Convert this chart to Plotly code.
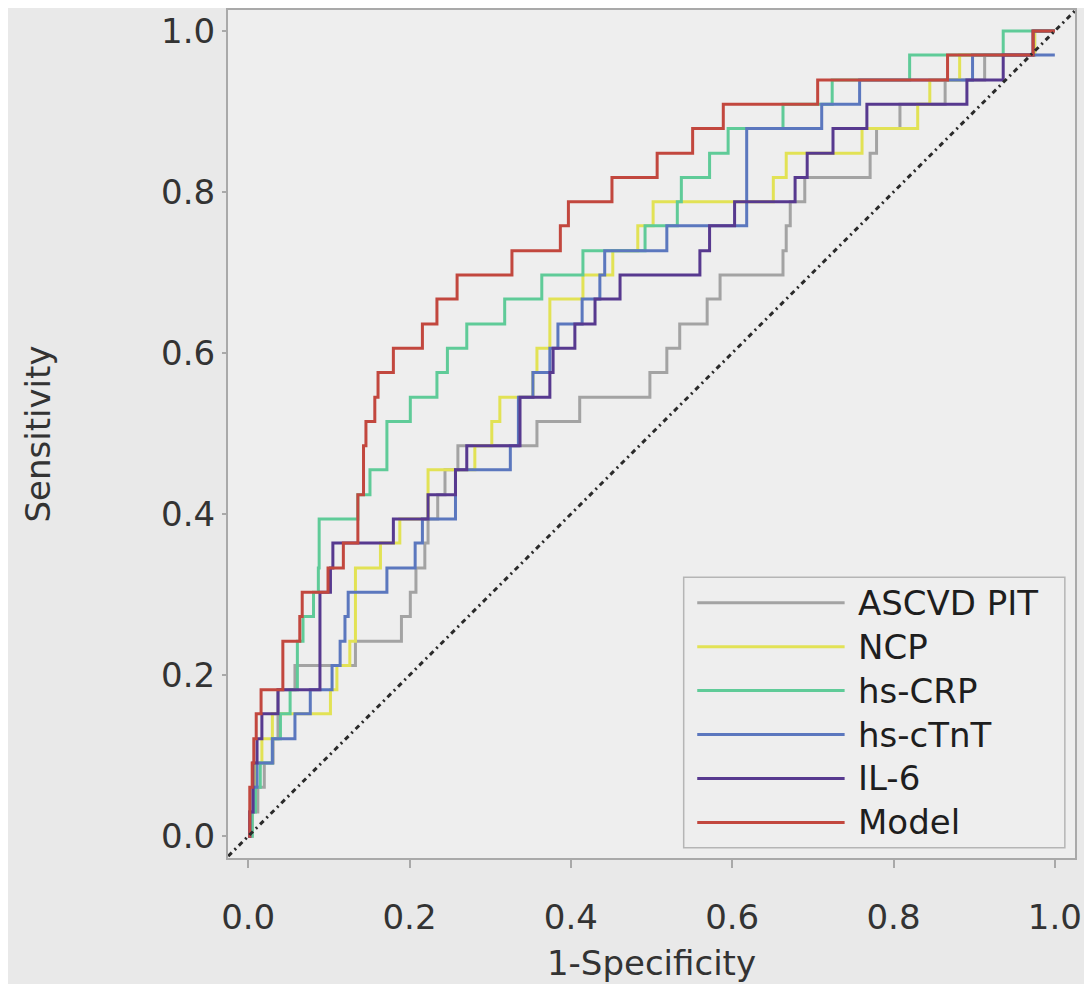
import plotly.graph_objects as go

# ---- data ----
series_names = ["ASCVD PIT", "NCP", "hs-CRP", "hs-cTnT", "IL-6", "Model"]
series_colors = ["#a3a3a3", "#e2e255", "#5fcb98", "#5b77be", "#57398f", "#c2473e"]

ascvd_fpr = [0, .005, .012, .020, .031, .037, .058, .133, .190, .201, .208, .219, .223, .235, .244, .260, .358,
             .411, .498, .519, .535, .569, .585, .663, .667, .672, .690, .771, .779, .808, .864, .913, .975, 1.0]
ascvd_tpr = [0, .030, .061, .091, .121, .182, .212, .242, .273, .303, .333, .364, .394, .424, .455, .485, .515,
             .545, .576, .606, .636, .667, .697, .727, .758, .788, .818, .848, .879, .909, .939, .970, 1.0, 1.0]

ncp_fpr = [0, .002, .006, .009, .017, .030, .102, .110, .126, .133, .164, .188, .223, .281, .302, .312, .353,
           .358, .374, .415, .452, .483, .502, .651, .667, .761, .830, .845, .882, .975, 1.0]
ncp_tpr = [0, .030, .061, .091, .121, .152, .182, .212, .242, .333, .364, .394, .455, .485, .515, .545, .576,
           .606, .667, .697, .727, .758, .788, .818, .848, .879, .909, .939, .970, 1.0, 1.0]

crp_fpr = [0, .005, .009, .015, .030, .040, .052, .061, .068, .081, .087, .088, .136, .151, .172, .201, .234,
           .247, .271, .318, .364, .415, .492, .532, .537, .572, .595, .663, .724, .820, .936, 1.0]
crp_tpr = [0, .030, .061, .091, .121, .152, .182, .242, .273, .303, .333, .394, .424, .455, .515, .545, .576,
           .606, .636, .667, .697, .727, .758, .788, .818, .848, .879, .909, .939, .970, 1.0, 1.0]

ctnt_fpr = [0, .002, .006, .011, .030, .058, .077, .104, .114, .120, .124, .172, .207, .216, .257, .325, .335,
            .353, .374, .384, .414, .436, .442, .519, .618, .711, .758, .898, 1.0]
ctnt_tpr = [0, .030, .061, .091, .121, .152, .182, .212, .242, .273, .303, .333, .364, .394, .455, .485, .545,
            .576, .606, .636, .667, .697, .727, .758, .879, .909, .939, .970, .970]

il6_fpr = [0, .002, .006, .011, .017, .037, .089, .102, .105, .180, .223, .257, .271, .337, .374, .378, .405,
           .430, .461, .560, .572, .603, .678, .693, .725, .767, .891, .936, .973, 1.0]
il6_tpr = [0, .030, .091, .121, .152, .182, .303, .333, .364, .394, .424, .455, .485, .545, .576, .606, .636,
           .667, .697, .727, .758, .788, .818, .848, .879, .909, .939, .970, 1.0, 1.0]

model_fpr = [0, .002, .005, .007, .010, .016, .043, .064, .067, .099, .118, .136, .143, .146, .157, .161, .180,
             .216, .234, .259, .327, .387, .397, .451, .507, .551, .589, .706, .867, .973, 1.0]
model_tpr = [0, .061, .091, .121, .152, .182, .242, .273, .303, .333, .364, .424, .485, .515, .545, .576, .606,
             .636, .667, .697, .727, .758, .788, .818, .848, .879, .909, .939, .970, 1.0, 1.0]

ref_line = [-0.03, 1.03]
tick_vals = [0.0, 0.2, 0.4, 0.6, 0.8, 1.0]
tick_text = ["0.0", "0.2", "0.4", "0.6", "0.8", "1.0"]

series_x = [ascvd_fpr, ncp_fpr, crp_fpr, ctnt_fpr, il6_fpr, model_fpr]
series_y = [ascvd_tpr, ncp_tpr, crp_tpr, ctnt_tpr, il6_tpr, model_tpr]

FONT = "DejaVu Sans"
TXT = "#333333"

fig = go.Figure()
for name, color, xs, ys in zip(series_names, series_colors, series_x, series_y):
    fig.add_trace(go.Scatter(x=xs, y=ys, mode="lines", name=name,
                             line=dict(color=color, width=3, shape="hv"),
                             showlegend=False))

fig.add_trace(go.Scatter(x=ref_line, y=ref_line, mode="lines", showlegend=False,
                         line=dict(color="#2a2a2a", width=3, dash="2px,4px,5px,4px")))

# custom legend (long line samples) inside the plot area
shapes = [dict(type="rect", xref="paper", yref="paper", x0=0.538, x1=0.988, y0=0.012, y1=0.331,
               line=dict(color="#b5b5b5", width=1.5), fillcolor="rgba(0,0,0,0)")]
annotations = []
top = 0.301
step = 0.0518
for i, (name, color) in enumerate(zip(series_names, series_colors)):
    yy = top - i * step
    shapes.append(dict(type="line", xref="paper", yref="paper", x0=0.554, x1=0.728, y0=yy, y1=yy,
                       line=dict(color=color, width=3)))
    annotations.append(dict(xref="paper", yref="paper", x=0.742, y=yy, xanchor="left", yanchor="middle",
                            text=name, showarrow=False, font=dict(family=FONT, size=34, color="#1e1e1e")))

axis_common = dict(
    showline=True, linecolor="#a9a9a9", linewidth=2, mirror=True,
    showgrid=False, zeroline=False, automargin=False,
    ticks="outside", tickcolor="#a9a9a9", tickwidth=1.5,
    tickvals=tick_vals, ticktext=tick_text,
    tickfont=dict(family=FONT, size=34, color=TXT),
)

fig.update_layout(
    width=1092, height=984,
    margin=dict(l=220, r=25, t=2, b=134),
    paper_bgcolor="#e9e9e9", plot_bgcolor="#eeeeee",
    shapes=shapes, annotations=annotations,
    xaxis=dict(range=[-0.025, 1.025], ticklen=8, title=dict(text="1-Specificity", standoff=15,
               font=dict(family=FONT, size=34, color=TXT)), ticklabelstandoff=20, **axis_common),
    yaxis=dict(range=[-0.027, 1.026], ticklen=4, title=dict(text="Sensitivity", standoff=100,
               font=dict(family=FONT, size=34, color=TXT)), ticklabelstandoff=0, **axis_common),
)

fig.write_html("out.html")
